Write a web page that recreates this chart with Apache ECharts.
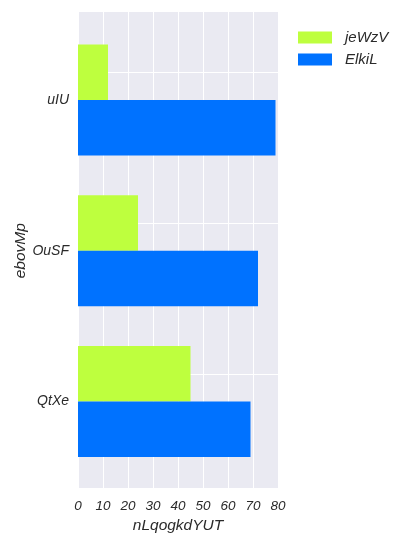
<!DOCTYPE html>
<html><head><meta charset="utf-8">
<script src="https://cdn.jsdelivr.net/npm/echarts@6/dist/echarts.min.js"></script>
<style>html,body{margin:0;padding:0;background:#fff}#c{width:408px;height:544px}</style>
</head><body><div id="c"></div>
<script>
const categories = ['uIU', 'OuSF', 'QtXe'];
const seriesNames = ['jeWzV', 'ElkiL'];
const jeWzV = [12, 24, 45];
const ElkiL = [79, 72, 69];
const xTicks = [0, 10, 20, 30, 40, 50, 60, 70, 80];
const xName = 'nLqogkdYUT';
const yName = 'ebovMp';

const FONT = '"Liberation Sans", Arial, Helvetica, sans-serif';
const TXT = '#2a2a2a';
const chart = echarts.init(document.getElementById('c'), null, {renderer: 'canvas'});
chart.setOption({
  animation: false,
  backgroundColor: '#ffffff',
  textStyle: {fontFamily: FONT, fontStyle: 'italic', color: TXT},
  grid: [
    {left: 78, top: 12, width: 200, height: 476, show: true, backgroundColor: '#EAEAF2', borderWidth: 0, containLabel: false},
    {left: 78, top: 24.5, width: 200, height: 452.5, show: false, containLabel: false}
  ],
  legend: {
    orient: 'vertical', left: 293, top: 25, itemWidth: 34, itemHeight: 12, itemGap: 7,
    icon: 'rect',
    data: seriesNames,
    textStyle: {fontFamily: FONT, fontStyle: 'italic', fontSize: 15, color: TXT, padding: [0, 0, 0, 8]}
  },
  xAxis: [
    {gridIndex: 0, type: 'value', min: xTicks[0], max: xTicks[xTicks.length - 1], interval: 10,
     axisLine: {show: false}, axisTick: {show: false},
     splitLine: {show: true, lineStyle: {color: '#ffffff', width: 1}},
     axisLabel: {fontFamily: FONT, fontStyle: 'italic', fontSize: 13.5, color: TXT, margin: 11},
     name: xName, nameLocation: 'middle', nameGap: 28,
     nameTextStyle: {fontFamily: FONT, fontStyle: 'italic', fontSize: 15.5, color: TXT}},
    {gridIndex: 1, type: 'value', min: xTicks[0], max: xTicks[xTicks.length - 1], show: false}
  ],
  yAxis: [
    {gridIndex: 0, type: 'value', show: false, splitLine: {show: false}},
    {gridIndex: 1, type: 'category', data: categories, inverse: true,
     axisLine: {show: false}, axisTick: {show: false}, splitLine: {show: false},
     axisLabel: {fontFamily: FONT, fontStyle: 'italic', fontSize: 14, color: TXT, margin: 9},
     name: yName, nameLocation: 'middle', nameGap: 49, nameRotate: 90,
     nameTextStyle: {fontFamily: FONT, fontStyle: 'italic', fontSize: 15.5, color: TXT}}
  ],
  series: [
    {name: seriesNames[0], type: 'bar', xAxisIndex: 1, yAxisIndex: 1, data: jeWzV,
     barWidth: 55.5, barGap: '0%', itemStyle: {color: '#BEFF3E'}, z: 3,
     markLine: {silent: true, z: 1, symbol: 'none', label: {show: false},
       lineStyle: {color: '#ffffff', width: 1, type: 'solid'},
       data: categories.map(c => ({yAxis: c}))}},
    {name: seriesNames[1], type: 'bar', xAxisIndex: 1, yAxisIndex: 1, data: ElkiL,
     barWidth: 55.5, barGap: '0%', itemStyle: {color: '#0072FF'}, z: 3}
  ]
});
</script></body></html>
